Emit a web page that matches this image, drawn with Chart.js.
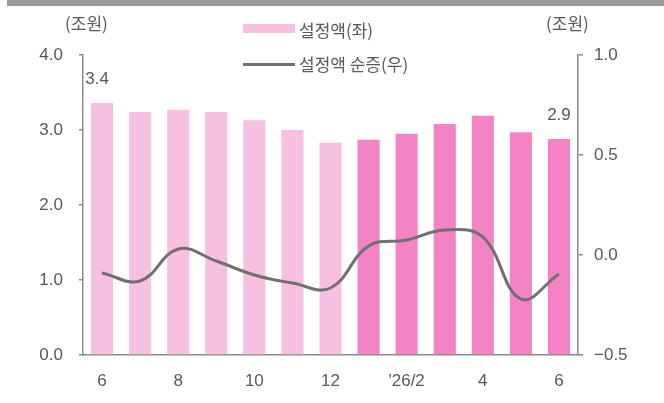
<!DOCTYPE html>
<html>
<head>
<meta charset="utf-8">
<script src="https://cdn.jsdelivr.net/npm/chart.js@4"></script>
<style>
  html, body { margin: 0; padding: 0; background: #fff; }
  #wrap { position: relative; width: 664px; height: 403px; overflow: hidden; }
  #myChart { display: block; position: absolute; left: 0; top: 0; }
  #topRule { position: absolute; z-index: 3; left: 7px; width: 657px; top: 0; height: 6px; background: #9a9a9a; }
  .txt { position: absolute; z-index: 2; font-family: "Noto Sans CJK KR", "Liberation Sans", sans-serif; font-size: 17px; color: #595959; line-height: 20px; white-space: nowrap; }
  .swatchBox { position: absolute; z-index: 2; left: 243px; top: 24px; width: 52px; height: 9px; background: #F8C0E0; }
  .swatchLine { position: absolute; z-index: 2; left: 243px; top: 63px; width: 52px; height: 3px; background: #707070; }
</style>
</head>
<body>
<div id="wrap">
  <canvas id="myChart" width="664" height="403"></canvas>
  <div id="topRule"></div>
  <div class="txt" style="left:65px; top:13px;">(조원)</div>
  <div class="txt" style="left:546px; top:13px;">(조원)</div>
  <div class="swatchBox"></div>
  <div class="txt" style="left:299px; top:20px;">설정액(좌)</div>
  <div class="swatchLine"></div>
  <div class="txt" style="left:299px; top:54px;">설정액 순증(우)</div>
</div>
<script>
// 월별 (25/6 ~ 26/6)
const months = ['6', '7', '8', '9', '10', '11', '12', '1', "'26/2", '3', '4', '5', '6'];
// 설정액 (조원, 좌축)
const balance = [3.36, 3.24, 3.27, 3.24, 3.13, 3.00, 2.83, 2.87, 2.95, 3.08, 3.19, 2.97, 2.88];
// 설정액 순증 (조원, 우축)
const netInflow = [-0.09, -0.13, 0.03, -0.03, -0.10, -0.14, -0.165, 0.045, 0.075, 0.125, 0.09, -0.22, -0.095];
const leftTicks = [0, 1, 2, 3, 4];
const rightTicks = [-0.5, 0, 0.5, 1.0];
const firstIdx2026 = 7;

const TEXT = '#595959';
const AXIS = '#8a8a8a';
const numFont = { family: '"Liberation Sans", Arial, sans-serif', size: 17 };

const fmt = v => (v < 0 ? '\u2212' + Math.abs(v).toFixed(1) : v.toFixed(1));

// 첫/마지막 막대 값 표시
const endLabels = {
    id: 'endLabels',
    afterDatasetsDraw(chart) {
        const meta = chart.getDatasetMeta(1);
        const ctx = chart.ctx;
        ctx.save();
        ctx.fillStyle = TEXT;
        ctx.font = numFont.size + 'px ' + numFont.family;
        ctx.textAlign = 'center';
        ctx.textBaseline = 'bottom';
        [0, balance.length - 1].forEach(i => {
            const bar = meta.data[i];
            ctx.fillText(balance[i].toFixed(1), bar.x - (i === 0 ? 5 : 0), bar.y - 15);
        });
        ctx.restore();
    }
};

const ctx = document.getElementById('myChart').getContext('2d');
new Chart(ctx, {
    data: {
        labels: months,
        datasets: [
            {
                type: 'line',
                label: '설정액 순증(우)',
                data: netInflow,
                yAxisID: 'y1',
                borderColor: '#707070',
                borderWidth: 3,
                pointRadius: 0,
                tension: 0.4,
                order: 0
            },
            {
                type: 'bar',
                label: '설정액(좌)',
                data: balance,
                yAxisID: 'y',
                backgroundColor: c => (c.dataIndex >= firstIdx2026 ? '#F383C4' : '#F8C0E0'),
                barPercentage: 0.58,
                categoryPercentage: 1,
                order: 1
            }
        ]
    },
    options: {
        responsive: false,
        animation: false,
        layout: { padding: { top: 55, left: 0, right: 0, bottom: 0 } },
        plugins: { legend: { display: false }, tooltip: { enabled: false } },
        scales: {
            x: {
                grid: { display: false, drawTicks: false },
                border: { color: AXIS, width: 1.5 },
                ticks: {
                    autoSkip: false,
                    maxRotation: 0,
                    padding: 16,
                    color: TEXT,
                    font: numFont,
                    callback: (v, i) => (i % 2 === 0 ? months[i] : '')
                },
                afterFit: s => { s.height = 48; }
            },
            y: {
                position: 'left',
                min: 0,
                max: 4,
                afterBuildTicks: s => { s.ticks = leftTicks.map(v => ({ value: v })); },
                grid: { drawOnChartArea: false, tickLength: 4, color: AXIS, lineWidth: 1.5 },
                border: { color: AXIS, width: 1.5 },
                ticks: { padding: 16, color: TEXT, font: numFont, callback: v => fmt(v) },
                afterFit: s => { s.width = 83; }
            },
            y1: {
                position: 'right',
                min: -0.5,
                max: 1.0,
                afterBuildTicks: s => { s.ticks = rightTicks.map(v => ({ value: v })); },
                grid: { drawOnChartArea: false, tickLength: 5, color: AXIS, lineWidth: 1.5 },
                border: { color: AXIS, width: 1.5 },
                ticks: { padding: 11, color: TEXT, font: numFont, callback: v => fmt(v) },
                afterFit: s => { s.width = 86; }
            }
        }
    },
    plugins: [endLabels]
});
</script>
</body>
</html>
